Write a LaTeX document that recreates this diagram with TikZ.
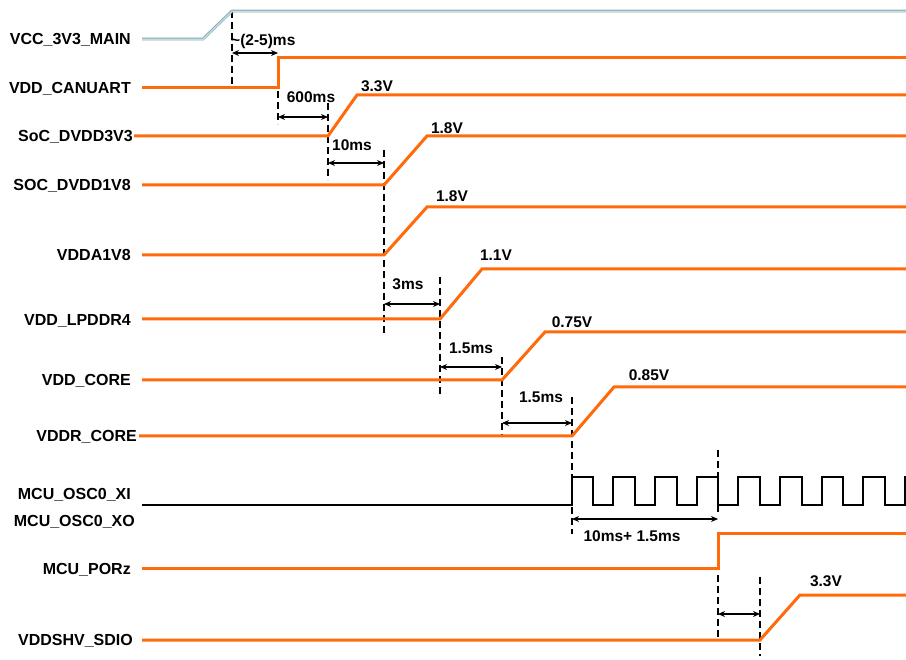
\documentclass[tikz,border=0pt]{standalone}
\usepackage{fontspec}
\setmainfont{Liberation Sans}
\usetikzlibrary{arrows.meta}
\definecolor{trorange}{RGB}{255,106,10}
\definecolor{trblue}{RGB}{188,222,232}
\definecolor{trbluedge}{RGB}{140,165,172}
\begin{document}
\begin{tikzpicture}[x=1pt,y=-1pt,
  sig/.style={font=\fontsize{16}{19}\selectfont\bfseries, anchor=base east, inner sep=0pt},
  val/.style={font=\fontsize{15.5}{18}\selectfont\bfseries, anchor=base, inner sep=0pt},
  otrace/.style={draw=trorange, line width=3pt, line join=miter},
  ktrace/.style={draw=black, line width=2.4pt, line join=miter},
  guide/.style={draw=black, line width=1.5pt, dash pattern=on 7pt off 4pt},
  span/.style={draw=black, line width=1.4pt, {Stealth[length=7pt,width=6pt]}-{Stealth[length=7pt,width=6pt]}}]
\useasboundingbox (0,0) rectangle (906,660);

% signal names
\node[sig] (n1) at (131,44.5) {VCC\_3V3\_MAIN};
\node[sig] (n2) at (131,93.5) {VDD\_CANUART};
\node[sig] (n3) at (133,141.5) {SoC\_DVDD3V3};
\node[sig] (n4) at (131,190.5) {SOC\_DVDD1V8};
\node[sig] (n5) at (131,260.5) {VDDA1V8};
\node[sig] (n6) at (131,325.5) {VDD\_LPDDR4};
\node[sig] (n7) at (131,385.5) {VDD\_CORE};
\node[sig] (n8) at (137,441.5) {VDDR\_CORE};
\node[sig] (n9) at (131,499.5) {MCU\_OSC0\_XI};
\node[sig] (n10) at (135,526) {MCU\_OSC0\_XO};
\node[sig] (n11) at (131,574.5) {MCU\_PORz};
\node[sig] (n12) at (133,645.5) {VDDSHV\_SDIO};

% dashed guides
\draw[guide] (232,11) -- (232,88);
\draw[guide] (278,58) -- (278,124);
\draw[guide] (328,103) -- (328,180);
\draw[guide] (384,150) -- (384,336);
\draw[guide] (440,277) -- (440,396);
\draw[guide] (502,357) -- (502,436);
\draw[guide] (572,397) -- (572,534);
\draw[guide] (718,450) -- (718,514);
\draw[guide] (718,575) -- (718,640);
\draw[guide] (760,577) -- (760,656);

% traces
\draw[draw=trbluedge, line width=2.8pt] (142,39) -- (203,39) -- (232,11) -- (906,11);
\draw[draw=trblue, line width=1.4pt] (142,39.3) -- (203,39.3) -- (232,11.3) -- (906,11.3);
\draw[otrace] (142,88) -- (278,88) -- (278,58) -- (906,58);
\draw[otrace] (134,136) -- (328,136) -- (357,95) -- (906,95);
\draw[otrace] (142,185) -- (384,185) -- (427,136) -- (906,136);
\draw[otrace] (142,255) -- (384,255) -- (427,207) -- (906,207);
\draw[otrace] (142,319) -- (440,319) -- (482,269) -- (906,269);
\draw[otrace] (142,380) -- (502,380) -- (545,332) -- (906,332);
\draw[otrace] (139,436) -- (572,436) -- (614,387) -- (906,387);
\draw[otrace] (142,568) -- (718,568) -- (718,533) -- (906,533);
\draw[otrace] (142,640) -- (760,640) -- (800,595) -- (906,595);
% clock
\draw[ktrace] (142,505) -- (572,505)
  -- (572,477) -- (593,477) -- (593,505) -- (613,505)
  -- (613,477) -- (635,477) -- (635,505) -- (655,505)
  -- (655,477) -- (677,477) -- (677,505) -- (697,505)
  -- (697,477) -- (718,477) -- (718,505) -- (738,505)
  -- (738,477) -- (760,477) -- (760,505) -- (780,505)
  -- (780,477) -- (802,477) -- (802,505) -- (822,505)
  -- (822,477) -- (843,477) -- (843,505) -- (863,505)
  -- (863,477) -- (885,477) -- (885,505) -- (905,505)
  -- (905,477) -- (906,477);

% spans
\coordinate (a1) at (232,53); \coordinate (b1) at (278,53);
\coordinate (a2) at (278,117); \coordinate (b2) at (328,117);
\coordinate (a3) at (328,163); \coordinate (b3) at (384,163);
\coordinate (a4) at (384,304); \coordinate (b4) at (440,304);
\coordinate (a5) at (440,367); \coordinate (b5) at (502,367);
\coordinate (a6) at (502,423); \coordinate (b6) at (572,423);
\coordinate (a7) at (572,519); \coordinate (b7) at (718,519);
\coordinate (a8) at (718,614); \coordinate (b8) at (760,614);
\draw[span] (a1) -- (b1);
\draw[span] (a2) -- (b2);
\draw[span] (a3) -- (b3);
\draw[span] (a4) -- (b4);
\draw[span] (a5) -- (b5);
\draw[span] (a6) -- (b6);
\draw[span] (a7) -- (b7);
\draw[span] (a8) -- (b8);

% values
\node[val, anchor=base west] (t1) at (231,45.5) {\textasciitilde(2-5)ms};
\node[val] (t2) at (311,102.5) {600ms};
\node[val] (t3) at (377,91.5) {3.3V};
\node[val] (t4) at (352,150.5) {10ms};
\node[val] (t5) at (447,133.5) {1.8V};
\node[val] (t6) at (452,201.5) {1.8V};
\node[val] (t7) at (496,260.5) {1.1V};
\node[val] (t8) at (408,289.5) {3ms};
\node[val] (t9) at (572,327.5) {0.75V};
\node[val] (t10) at (471,353.5) {1.5ms};
\node[val] (t11) at (649,380.5) {0.85V};
\node[val] (t12) at (541,402.5) {1.5ms};
\node[val] (t13) at (632,541.5) {10ms+ 1.5ms};
\node[val] (t14) at (826,586.5) {3.3V};
\end{tikzpicture}
\end{document}
